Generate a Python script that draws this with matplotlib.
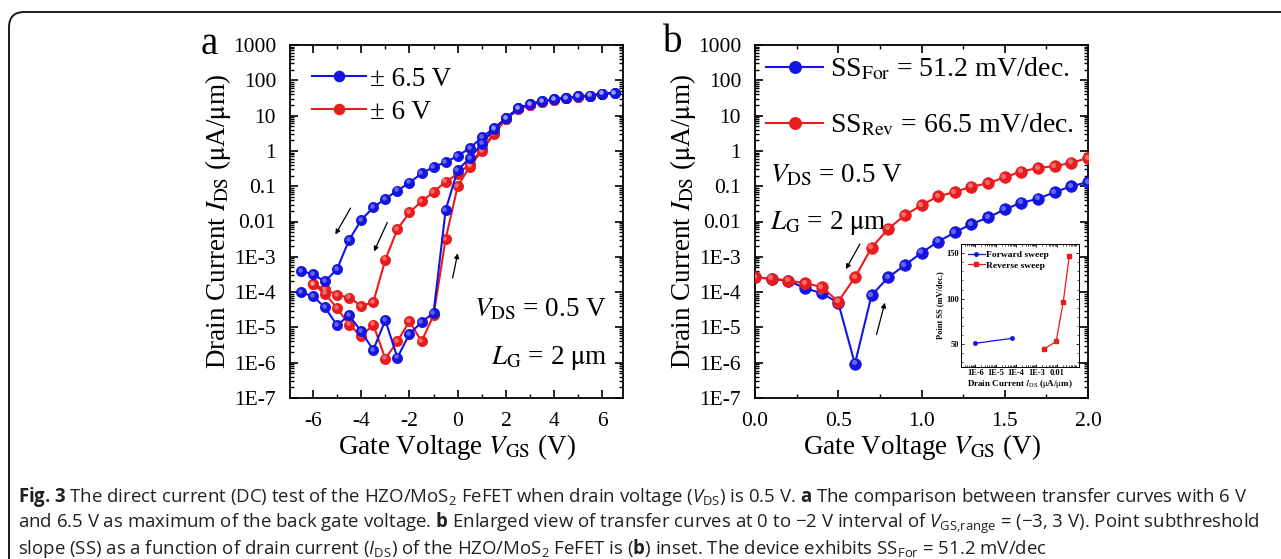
import numpy as np
import matplotlib
matplotlib.use("Agg")
import matplotlib.pyplot as plt
import matplotlib.font_manager as fm
from matplotlib.ticker import (FixedLocator, FixedFormatter, MultipleLocator, LogLocator,
                               NullFormatter, FormatStrFormatter)
from matplotlib.transforms import ScaledTranslation
from matplotlib.patches import FancyBboxPatch

# ---------------------------------------------------------------------------
# font setup
# ---------------------------------------------------------------------------
installed = {f.name for f in fm.fontManager.ttflist}
CAP_FONT = 'Liberation Sans Narrow' if 'Liberation Sans Narrow' in installed else 'Open Sans'

plt.rcParams.update({
    'font.family': 'Liberation Serif',
    'mathtext.fontset': 'stix',
    'mathtext.rm': CAP_FONT,
    'mathtext.it': CAP_FONT + ':italic',
    'mathtext.bf': CAP_FONT + ':bold',
    'axes.unicode_minus': False,
    'axes.linewidth': 1.3,
    'xtick.direction': 'in',
    'ytick.direction': 'in',
    'xtick.top': True,
    'ytick.right': True,
    'xtick.major.size': 6,
    'ytick.major.size': 6,
    'xtick.minor.size': 3,
    'ytick.minor.size': 3,
    'xtick.major.width': 1.2,
    'ytick.major.width': 1.2,
    'xtick.minor.width': 1.0,
    'ytick.minor.width': 1.0,
})

BLUE = '#1414e0'
RED = '#e81c1c'

# ---------------------------------------------------------------------------
# data
# ---------------------------------------------------------------------------
# panel a, +-6.5 V sweep
vgs_65 = [-6.5, -6.0, -5.5, -5.0, -4.5, -4.0, -3.5, -3.0, -2.5, -2.0, -1.5, -1.0, -0.5,
          0.0, 0.5, 1.0, 1.5, 2.0, 2.5, 3.0, 3.5, 4.0, 4.5, 5.0, 5.5, 6.0, 6.5]
ids_65_fwd = [9.8e-5, 7.6e-5, 3.7e-5, 1.15e-5, 2.2e-5, 7.7e-6, 2.3e-6, 1.6e-5, 1.4e-6,
              6.5e-6, 1.4e-5, 2.6e-5, 2.1e-2, 0.29, 0.62, 1.6, 4.2, 8.3, 16, 21, 26,
              29, 32, 35, 37, 42, 43]
ids_65_rev = [4.0e-4, 3.2e-4, 2.0e-4, 4.5e-4, 3.0e-3, 1.1e-2, 2.5e-2, 4.4e-2, 7.5e-2,
              0.126, 0.23, 0.35, 0.48, 0.72, 1.2, 2.4, 4.4, 8.3, 16, 21, 26, 29, 32,
              35, 37, 42, 43]

# panel a, +-6 V sweep
vgs_6 = [-6.0, -5.5, -5.0, -4.5, -4.0, -3.5, -3.0, -2.5, -2.0, -1.5, -1.0, -0.5, 0.0,
         0.5, 1.0, 1.5, 2.0, 2.5, 3.0, 3.5, 4.0, 4.5, 5.0, 5.5, 6.0]
ids_6_fwd = [1.7e-4, 9.0e-5, 3.5e-5, 1.2e-5, 5.6e-6, 1.2e-5, 1.3e-6, 4.0e-6, 1.5e-5,
             4.0e-6, 2.2e-5, 3.2e-3, 0.10, 0.36, 1.0, 3.0, 8.0, 15, 20, 25, 28, 31,
             34, 36, 40]
ids_6_rev = [1.7e-4, 1.2e-4, 8.3e-5, 7.0e-5, 4.1e-5, 5.1e-5, 8.3e-4, 6.0e-3, 1.8e-2,
             3.7e-2, 6.8e-2, 0.135, 0.22, 0.42, 1.1, 3.2, 8.0, 15, 20, 25, 28, 31,
             34, 36, 40]

# panel b, enlarged 0..2 V
vgs_b = [0.0, 0.1, 0.2, 0.3, 0.4, 0.5, 0.6, 0.7, 0.8, 0.9, 1.0, 1.1, 1.2, 1.3, 1.4,
         1.5, 1.6, 1.7, 1.8, 1.9, 2.0]
ids_b_for = [2.6e-4, 2.4e-4, 2.1e-4, 1.3e-4, 9.3e-5, 5.0e-5, 9.3e-7, 8.1e-5, 2.6e-4,
             5.8e-4, 1.3e-3, 2.7e-3, 4.9e-3, 8.5e-3, 1.3e-2, 2.2e-2, 3.4e-2, 4.4e-2,
             6.8e-2, 0.10, 0.13]
ids_b_rev = [2.6e-4, 2.4e-4, 2.1e-4, 1.8e-4, 1.4e-4, 5.4e-5, 2.6e-4, 1.8e-3, 6.2e-3,
             1.5e-2, 2.9e-2, 5.2e-2, 6.8e-2, 9.8e-2, 0.12, 0.18, 0.26, 0.33, 0.37,
             0.46, 0.63]

# inset: point SS vs drain current
ss_for_ids = [1.0e-6, 6.5e-5]
ss_for_val = [51, 56.5]
ss_rev_ids = [2.5e-3, 9.5e-3, 2.1e-2, 4.2e-2]
ss_rev_val = [45, 53, 96, 147]

y_ticks = [1e-7, 1e-6, 1e-5, 1e-4, 1e-3, 1e-2, 1e-1, 1, 10, 100, 1000]
y_labels = ['1E-7', '1E-6', '1E-5', '1E-4', '1E-3', '0.01', '0.1', '1', '10', '100', '1000']
inset_x_ticks = [1e-6, 1e-5, 1e-4, 1e-3, 1e-2]
inset_x_labels = ['1E-6', '1E-5', '1E-4', '1E-3', '0.01']

caption_lines = [
    r"$\mathbf{Fig.\hspace{0.07}3}$ The direct current (DC) test of the HZO/MoS$_{2}$ FeFET when drain voltage ($V_{\mathrm{DS}}$) is 0.5 V. $\mathbf{a}$ The comparison between transfer curves with 6 V",
    r"and 6.5 V as maximum of the back gate voltage. $\mathbf{b}$ Enlarged view of transfer curves at 0 to $-$2 V interval of $V_{\mathrm{GS{,}range}}$ = ($-$3, 3 V). Point subthreshold",
    r"slope (SS) as a function of drain current ($I_{\mathrm{DS}}$) of the HZO/MoS$_{2}$ FeFET is ($\mathbf{b}$) inset. The device exhibits SS$_{\mathrm{For}}$ = 51.2 mV/dec",
]

TXT = 19.5     # annotation / label size
TICK = 15.5


# ---------------------------------------------------------------------------
# helpers
# ---------------------------------------------------------------------------
def ball_line(ax, x, y, color, ms, lw, z=3):
    """line with 'shaded ball' markers"""
    ax.plot(x, y, '-', color=color, lw=lw, marker='o', ms=ms, mfc=color,
            mec=color, mew=0.6, zorder=z)
    hl = ax.transData + ScaledTranslation(-ms * 0.12 / 72, ms * 0.12 / 72, ax.figure.dpi_scale_trans)
    ax.plot(x, y, ls='none', marker='o', ms=ms * 0.45, mfc='white', mec='none',
            alpha=0.35, transform=hl, zorder=z + 0.1)


def style_log_axis(ax):
    ax.set_yscale('log')
    ax.set_ylim(1e-7, 1000)
    ax.yaxis.set_major_locator(FixedLocator(y_ticks))
    ax.yaxis.set_major_formatter(FixedFormatter(y_labels))
    ax.yaxis.set_minor_locator(LogLocator(base=10, subs=np.arange(2, 10), numticks=40))
    ax.yaxis.set_minor_formatter(NullFormatter())
    ax.tick_params(axis='both', which='major', labelsize=TICK, pad=10)
    ax.set_ylabel(r'Drain Current $I_{\mathrm{DS}}$ ($\mathrm{\mu}$A/$\mathrm{\mu}$m)',
                  fontsize=TXT, labelpad=0, math_fontfamily='stix')
    ax.set_xlabel(r'Gate Voltage $V_{\mathrm{GS}}$ (V)', fontsize=TXT, labelpad=1,
                  math_fontfamily='stix')


def arrow(ax, start, end):
    ax.annotate('', xy=end, xytext=start,
                arrowprops=dict(arrowstyle='-|>', color='black', lw=0.9,
                                mutation_scale=7, shrinkA=0, shrinkB=0), zorder=6)


fig = plt.figure(figsize=(12.81, 5.59), dpi=100)

# rounded frame around the whole figure
frame = FancyBboxPatch((9 / 1281, -0.05), 1.2, 1 - 12 / 559 + 0.05,
                       boxstyle='round,pad=0,rounding_size=0.012',
                       transform=fig.transFigure, fill=False, ec='#1a1a1a', lw=1.4,
                       mutation_aspect=1281 / 559)
fig.patches.append(frame)

# ---------------------------------------------------------------------------
# panel a
# ---------------------------------------------------------------------------
ax_a = fig.add_axes([290 / 1281, 1 - 398 / 559, 333 / 1281, 353 / 559])
loop6_v = vgs_6 + vgs_6[::-1]
loop6_i = ids_6_fwd + ids_6_rev[::-1]
loop65_v = vgs_65 + vgs_65[::-1]
loop65_i = ids_65_fwd + ids_65_rev[::-1]
ball_line(ax_a, loop6_v, loop6_i, RED, 7.3, 1.5, z=3)
ball_line(ax_a, loop65_v, loop65_i, BLUE, 7.3, 1.5, z=4)
style_log_axis(ax_a)
ax_a.set_xlim(-6.95, 6.85)
ax_a.xaxis.set_major_locator(MultipleLocator(2))
ax_a.xaxis.set_minor_locator(MultipleLocator(1))

h_blue, = ax_a.plot([], [], '-o', color=BLUE, ms=7.3, lw=1.5)
h_red, = ax_a.plot([], [], '-o', color=RED, ms=7.3, lw=1.5)
ax_a.legend([h_blue, h_red], ['\u00b1 6.5 V', '\u00b1 6 V'], loc='upper left',
            bbox_to_anchor=(0.0, 1.0), frameon=False, fontsize=TXT, handlelength=2.0,
            handletextpad=0.15, labelspacing=0.3, borderaxespad=0.4, numpoints=1)

ax_a.text(6.2, 10 ** -4.5, r'$V_{\mathrm{DS}}$ = 0.5 V', fontsize=TXT, ha='right',
          va='center', math_fontfamily='stix')
ax_a.text(6.2, 10 ** -5.87, r'$L_{\mathrm{G}}$ = 2 $\mathrm{\mu}$m', fontsize=TXT,
          ha='right', va='center', math_fontfamily='stix')

arrow(ax_a, (-4.44, 10 ** -1.62), (-5.07, 10 ** -2.37))
arrow(ax_a, (-2.92, 10 ** -2.03), (-3.47, 10 ** -2.85))
arrow(ax_a, (-0.21, 10 ** -3.6), (0.0, 10 ** -2.9))

fig.text(209 / 1281, 1 - 44 / 559, 'a', fontsize=28, ha='center', va='center')

# ---------------------------------------------------------------------------
# panel b
# ---------------------------------------------------------------------------
ax_b = fig.add_axes([755 / 1281, 1 - 398 / 559, 333 / 1281, 353 / 559])
ball_line(ax_b, vgs_b, ids_b_for, BLUE, 8.3, 1.5, z=3)
ball_line(ax_b, vgs_b, ids_b_rev, RED, 8.3, 1.5, z=4)
style_log_axis(ax_b)
ax_b.set_xlim(0, 2.0)
ax_b.xaxis.set_major_locator(MultipleLocator(0.5))
ax_b.xaxis.set_minor_locator(MultipleLocator(0.25))
ax_b.xaxis.set_major_formatter(FormatStrFormatter('%.1f'))

hb_blue, = ax_b.plot([], [], '-o', color=BLUE, ms=8.3, lw=1.5)
hb_red, = ax_b.plot([], [], '-o', color=RED, ms=8.3, lw=1.5)
leg_b = ax_b.legend([hb_blue, hb_red],
                    [r'SS$_{\mathrm{For}}$ = 51.2 mV/dec.', r'SS$_{\mathrm{Rev}}$ = 66.5 mV/dec.'],
                    loc='upper left', bbox_to_anchor=(0.0, 1.0), frameon=False,
                    handlelength=2.05, handletextpad=0.25, labelspacing=1.05,
                    borderaxespad=0.0, numpoints=1,
                    prop={'family': 'Liberation Serif', 'size': TXT + 0.5})
for t in leg_b.get_texts():
    t.set_math_fontfamily('stix')

ax_b.text(0.09, 10 ** -0.69, r'$V_{\mathrm{DS}}$ = 0.5 V', fontsize=TXT, ha='left',
          va='center', math_fontfamily='stix')
ax_b.text(0.09, 10 ** -2.03, r'$L_{\mathrm{G}}$ = 2 $\mathrm{\mu}$m', fontsize=TXT,
          ha='left', va='center', math_fontfamily='stix')

arrow(ax_b, (0.63, 10 ** -2.64), (0.546, 10 ** -3.35))
arrow(ax_b, (0.73, 10 ** -5.2), (0.78, 10 ** -4.3))

fig.text(673 / 1281, 1 - 43 / 559, 'b', fontsize=28, ha='center', va='center')

# ---------------------------------------------------------------------------
# inset
# ---------------------------------------------------------------------------
ax_in = fig.add_axes([961 / 1281, 1 - 367 / 559, 118 / 1281, 123 / 559])
ax_in.plot(ss_for_ids, ss_for_val, '-o', color=BLUE, lw=0.9, ms=2.5, label='Forward sweep')
ax_in.plot(ss_rev_ids, ss_rev_val, '-s', color=RED, lw=0.9, ms=2.2, label='Reverse sweep')
ax_in.set_xscale('log')
ax_in.set_xlim(10 ** -6.7, 10 ** -0.9)
ax_in.set_ylim(25, 160)
ax_in.xaxis.set_major_locator(FixedLocator(inset_x_ticks))
ax_in.xaxis.set_major_formatter(FixedFormatter(inset_x_labels))
ax_in.xaxis.set_minor_locator(LogLocator(base=10, subs=np.arange(2, 10), numticks=40))
ax_in.xaxis.set_minor_formatter(NullFormatter())
ax_in.yaxis.set_major_locator(FixedLocator([50, 100, 150]))
ax_in.yaxis.set_minor_locator(MultipleLocator(10))
for sp in ax_in.spines.values():
    sp.set_linewidth(0.7)
ax_in.tick_params(which='major', labelsize=6, length=2.5, width=0.6, pad=1.5)
ax_in.tick_params(which='minor', length=1.3, width=0.5)
for lab in ax_in.get_xticklabels() + ax_in.get_yticklabels():
    lab.set_fontweight('bold')
ax_in.set_ylabel('Point SS (mV/dec.)', fontsize=6, fontweight='bold', labelpad=1.5)
ax_in.set_xlabel(r'Drain Current $I_{\mathrm{DS}}$ ($\mathrm{\mu}$A/$\mathrm{\mu}$m)',
                 fontsize=6.5, fontweight='bold', labelpad=1, math_fontfamily='stix')
ax_in.legend(loc='upper left', frameon=False, handlelength=1.8,
             handletextpad=0.2, labelspacing=0.2, borderaxespad=0.3,
             prop={'family': 'Liberation Serif', 'size': 6.8, 'weight': 'bold'})

# ---------------------------------------------------------------------------
# caption
# ---------------------------------------------------------------------------
for i, line in enumerate(caption_lines):
    fig.text(18 / 1281, 1 - (497 + 26 * i) / 559, line, fontsize=13.4, family=CAP_FONT,
             color='#231f20', ha='left', va='center', math_fontfamily='custom')

fig.savefig('out.png', dpi=100)
